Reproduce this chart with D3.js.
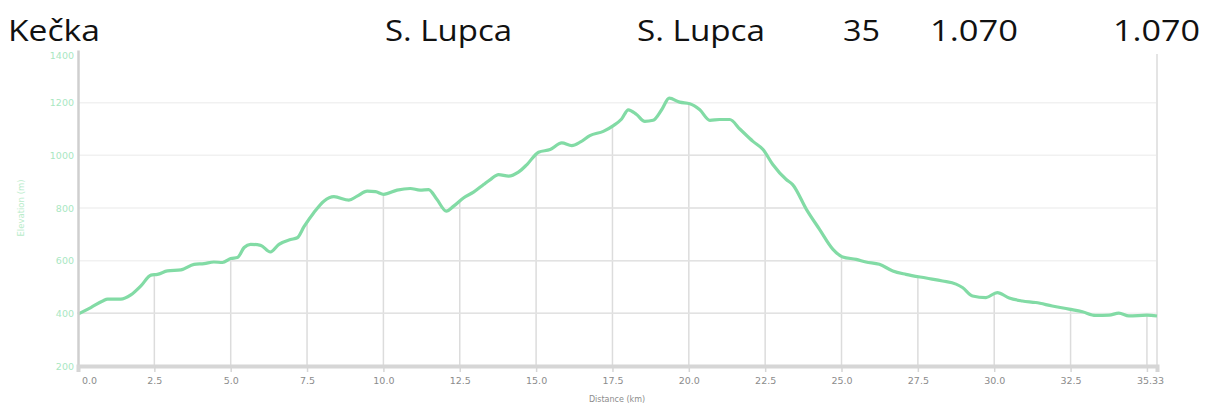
<!DOCTYPE html>
<html>
<head>
<meta charset="utf-8">
<script src="https://d3js.org/d3.v7.min.js"></script>
<style>
  body { margin: 0; background: #fff; }
  svg { display: block; }
</style>
</head>
<body>
<div id="chart"></div>
<script>
// header row above the profile
var headerTexts = ["Kečka", "S. Lupca", "S. Lupca", "35", "1.070", "1.070"];

// elevation profile
var distances = [0, 0.42, 0.81, 0.97, 1.4, 1.73, 2.06, 2.39, 2.6, 2.93, 3.37, 3.8, 4.13, 4.45, 4.73, 5.0, 5.22, 5.44, 5.65, 5.98, 6.3, 6.58, 6.96, 7.18, 7.4, 7.72, 8.05, 8.38, 8.87, 9.14, 9.47, 9.74, 10.01, 10.45, 10.88, 11.2, 11.48, 11.75, 12.06, 12.3, 12.63, 12.95, 13.28, 13.5, 13.77, 14.1, 14.42, 14.7, 15.08, 15.46, 15.84, 16.17, 16.44, 16.76, 17.2, 17.53, 17.8, 18.02, 18.29, 18.56, 18.83, 19.11, 19.36, 19.7, 20.03, 20.36, 20.69, 21.01, 21.34, 21.67, 22.1, 22.43, 22.75, 23.19, 23.4, 23.85, 24.28, 24.72, 25.04, 25.48, 25.8, 26.24, 26.68, 27.11, 27.77, 28.31, 28.75, 28.96, 29.29, 29.73, 30.1, 30.49, 30.92, 31.36, 31.9, 32.45, 32.89, 33.32, 33.76, 34.08, 34.41, 35.0, 35.33];
var elevations = [397, 422, 447, 454, 454, 470, 504, 545, 548, 561, 565, 586, 589, 595, 593, 608, 612, 650, 662, 658, 633, 662, 680, 687, 729, 782, 826, 843, 830, 845, 864, 862, 852, 868, 874, 868, 870, 833, 788, 807, 839, 860, 889, 908, 927, 921, 936, 965, 1012, 1022, 1047, 1037, 1050, 1075, 1091, 1113, 1138, 1173, 1155, 1129, 1133, 1173, 1217, 1202, 1196, 1173, 1133, 1136, 1136, 1100, 1053, 1022, 965, 908, 889, 795, 719, 643, 614, 605, 595, 586, 561, 548, 534, 523, 511, 498, 466, 460, 479, 458, 447, 441, 428, 416, 406, 392, 393, 401, 390, 393, 390];

var xTicks = [0, 2.5, 5, 7.5, 10, 12.5, 15, 17.5, 20, 22.5, 25, 27.5, 30, 32.5, 35, 35.33];
var xTickLabels = ["0.0", "2.5", "5.0", "7.5", "10.0", "12.5", "15.0", "17.5", "20.0", "22.5", "25.0", "27.5", "30.0", "32.5", "", "35.33"];
var yTicks = [200, 400, 600, 800, 1000, 1200, 1400];

var W = 1216, H = 407;
var plotLeft = 78, plotRight = 1157, plotTop = 50, plotBottom = 366;

var svg = d3.select("#chart").append("svg")
    .attr("width", W)
    .attr("height", H);

var x = d3.scaleLinear().domain([0, 35.33]).range([plotLeft, plotRight]);
var y = d3.scaleLinear().domain([200, 1400]).range([plotBottom, plotTop]);

var points = distances.map(function (d, i) { return [d, elevations[i]]; });

// header text - widths
var headerX = [8, 385, 637, 843, 930, 1113];
var headerW = [92, 127, 128, 37, 88, 87];
svg.selectAll(".head")
    .data(headerTexts)
    .enter().append("text")
    .attr("class", "head")
    .attr("x", function (d, i) { return headerX[i]; })
    .attr("y", 41)
    .attr("textLength", function (d, i) { return headerW[i]; })
    .attr("lengthAdjust", "spacingAndGlyphs")
    .style("font-family", "'Open Sans', sans-serif")
    .style("font-size", "30px")
    .style("fill", "#111")
    .text(function (d) { return d; });

// faint horizontal grid over the whole plot
svg.append("g")
    .selectAll("line")
    .data(yTicks.slice(1, 6))
    .enter().append("line")
    .attr("x1", plotLeft).attr("x2", plotRight)
    .attr("y1", function (d) { return y(d); })
    .attr("y2", function (d) { return y(d); })
    .style("stroke", "#f1f1f1")
    .style("stroke-width", 1.5);

// under the curve the grid is darker
var area = d3.area()
    .x(function (d) { return x(d[0]); })
    .y0(plotBottom)
    .y1(function (d) { return y(d[1]); });

svg.append("clipPath")
    .attr("id", "under")
    .append("path")
    .attr("d", area(points));

var under = svg.append("g").attr("clip-path", "url(#under)");

under.selectAll(".vg")
    .data(xTicks.slice(1, 15))
    .enter().append("line")
    .attr("class", "vg")
    .attr("x1", function (d) { return x(d); })
    .attr("x2", function (d) { return x(d); })
    .attr("y1", plotTop).attr("y2", plotBottom)
    .style("stroke", "#dcdcdc")
    .style("stroke-width", 1.5);

under.selectAll(".hg")
    .data(yTicks.slice(1, 6))
    .enter().append("line")
    .attr("class", "hg")
    .attr("x1", plotLeft).attr("x2", plotRight)
    .attr("y1", function (d) { return y(d); })
    .attr("y2", function (d) { return y(d); })
    .style("stroke", "#e2e2e2")
    .style("stroke-width", 1.5);

// right border
svg.append("line")
    .attr("x1", plotRight).attr("x2", plotRight)
    .attr("y1", plotTop + 4).attr("y2", plotBottom)
    .style("stroke", "#e4e4e4")
    .style("stroke-width", 2);

// the profile
var line = d3.line()
    .x(function (d) { return x(d[0]); })
    .y(function (d) { return y(d[1]); })
    .curve(d3.curveMonotoneX);

svg.append("path")
    .attr("d", line(points))
    .style("fill", "none")
    .style("stroke", "#82dba5")
    .style("stroke-width", 3.2)
    .style("stroke-linejoin", "round");

// y axis
var yAxis = svg.append("g")
    .attr("transform", "translate(" + plotLeft + ",0)")
    .call(d3.axisLeft(y).tickValues(yTicks).tickSize(0).tickPadding(4).tickFormat(d3.format("d")));
yAxis.select(".domain").style("stroke", "#cfcfcf").style("stroke-width", 2.5);
yAxis.selectAll("text")
    .style("fill", "#a9e7c2")
    .style("font-family", "'DejaVu Sans', sans-serif")
    .style("font-size", "9.5px");
// top label sits a little lower, inside the plot frame
yAxis.selectAll(".tick text")
    .attr("dy", function (d) { return d == 1400 ? "0.9em" : "0.32em"; });

svg.append("text")
    .attr("transform", "translate(24," + y(800) + ") rotate(-90)")
    .attr("text-anchor", "middle")
    .style("fill", "#b8ecca")
    .style("font-family", "'DejaVu Sans', sans-serif")
    .style("font-size", "8.5px")
    .text("Elevation (m)");

// x axis
var xAxis = svg.append("g")
    .attr("transform", "translate(0," + plotBottom + ")")
    .call(d3.axisBottom(x).tickValues(xTicks).tickSize(6).tickPadding(5)
        .tickFormat(function (d, i) { return xTickLabels[i]; }));
xAxis.select(".domain").style("stroke", "#d6d6d6").style("stroke-width", 4);
xAxis.selectAll("line").style("stroke", "#d6d6d6").style("stroke-width", 1.5);
xAxis.selectAll("text")
    .style("fill", "#8c8c8c")
    .style("font-family", "'DejaVu Sans', sans-serif")
    .style("font-size", "9.5px");
xAxis.selectAll(".tick text")
    .attr("dx", function (d, i) { return i == 0 ? 11 : (i == xTicks.length - 1 ? -7 : 0); });

svg.append("text")
    .attr("x", 617)
    .attr("y", 402)
    .attr("text-anchor", "middle")
    .style("fill", "#8c8c8c")
    .style("font-family", "'DejaVu Sans', sans-serif")
    .style("font-size", "8px")
    .text("Distance (km)");
</script>
</body>
</html>
